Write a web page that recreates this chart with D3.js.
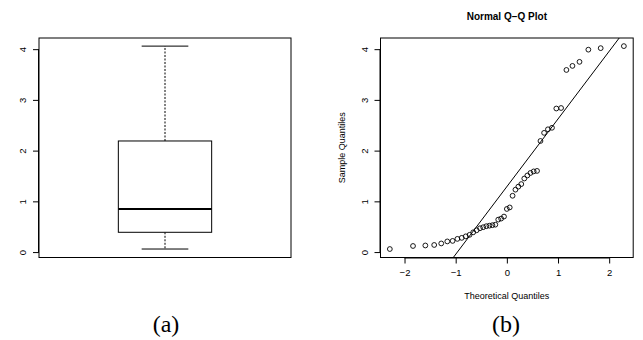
<!DOCTYPE html>
<html>
<head>
<meta charset="utf-8">
<script src="https://cdn.jsdelivr.net/npm/d3@7"></script>
<style>
  body { margin: 0; background: #fff; }
  svg text { font-family: "Liberation Sans", Arial, sans-serif; fill: #000; }
</style>
</head>
<body>
<div id="chart"></div>
<script>
// sorted sample (n = 45)
var sample = [0.06, 0.12, 0.13, 0.14, 0.17, 0.21, 0.22, 0.26, 0.28, 0.31,
              0.34, 0.39, 0.43, 0.47, 0.49, 0.51, 0.52, 0.53, 0.54, 0.64,
              0.66, 0.70, 0.85, 0.88, 1.11, 1.23, 1.29, 1.34, 1.45, 1.51,
              1.56, 1.59, 1.60, 2.19, 2.35, 2.42, 2.45, 2.83, 2.84, 3.59,
              3.67, 3.75, 3.99, 4.02, 4.06];
// theoretical normal quantiles for the 45 plotting positions
var theoretical = [-2.287, -1.834, -1.593, -1.420, -1.282, -1.164, -1.060, -0.967, -0.882, -0.803,
                   -0.728, -0.657, -0.590, -0.524, -0.462, -0.401, -0.341, -0.282, -0.225, -0.168,
                   -0.112, -0.056, 0, 0.056, 0.112, 0.168, 0.225, 0.282, 0.341, 0.401,
                   0.462, 0.524, 0.590, 0.657, 0.728, 0.803, 0.882, 0.967, 1.060, 1.164,
                   1.282, 1.420, 1.593, 1.834, 2.287];
var yTicks = [0, 1, 2, 3, 4];
var xTicks = [-2, -1, 0, 1, 2];
var normQuartile = 0.6745;

var W = 643, H = 340;
var plotTop = 38, plotBottom = 257.5;

var svg = d3.select("#chart").append("svg")
    .attr("width", W).attr("height", H);

var y = d3.scaleLinear().domain([-0.107, 4.22]).range([plotBottom, plotTop]);

function yAxis(g, x0) {
  g.append("g")
    .attr("transform", "translate(" + x0 + ",0)")
    .call(d3.axisLeft(y).tickValues(yTicks).tickSize(6).tickFormat(d3.format("d")))
    .call(function(a) {
      a.select(".domain").attr("d", "M-0.5," + y(0) + "V" + y(4)).attr("stroke", "#000");
      a.selectAll("text").attr("font-size", 9.5).attr("font-family", "Liberation Sans, Arial, sans-serif")
        .attr("text-anchor", "middle").attr("dy", null)
        .attr("x", null).attr("y", null)
        .attr("transform", "translate(-13,0) rotate(-90)");
    });
}

// ---------- (a) boxplot ----------
var xb = d3.scaleLinear().domain([0.46, 1.54]).range([39, 291]);
var a = svg.append("g");
a.append("rect").attr("x", xb(0.46)).attr("y", plotTop).attr("width", xb(1.54) - xb(0.46))
  .attr("height", plotBottom - plotTop).attr("fill", "none").attr("stroke", "#000");
yAxis(a, 39);

var lo = d3.min(sample), hi = d3.max(sample);
var q1 = d3.quantile(sample, 0.25), med = d3.median(sample), q3 = d3.quantile(sample, 0.75);

a.append("line").attr("x1", xb(1)).attr("x2", xb(1)).attr("y1", y(q3)).attr("y2", y(hi))
  .attr("stroke", "#000").attr("stroke-dasharray", "2,1.5");
a.append("line").attr("x1", xb(1)).attr("x2", xb(1)).attr("y1", y(q1)).attr("y2", y(lo))
  .attr("stroke", "#000").attr("stroke-dasharray", "2,1.5");
[lo, hi].forEach(function(v) {
  a.append("line").attr("x1", xb(0.9)).attr("x2", xb(1.1)).attr("y1", y(v)).attr("y2", y(v))
    .attr("stroke", "#000");
});
a.append("rect").attr("x", xb(0.8)).attr("y", y(q3)).attr("width", xb(1.2) - xb(0.8))
  .attr("height", y(q1) - y(q3)).attr("fill", "#fff").attr("stroke", "#000");
a.append("line").attr("x1", xb(0.8)).attr("x2", xb(1.2)).attr("y1", y(med)).attr("y2", y(med))
  .attr("stroke", "#000").attr("stroke-width", 2);

// ---------- (b) normal Q-Q plot ----------
var xq = d3.scaleLinear().domain([-2.4694, 2.4694]).range([380.5, 633.2]);
var b = svg.append("g");
b.append("defs").append("clipPath").attr("id", "clipq").append("rect")
  .attr("x", xq(-2.4694)).attr("y", plotTop).attr("width", xq(2.4694) - xq(-2.4694)).attr("height", plotBottom - plotTop);
b.append("rect").attr("x", xq(-2.4694)).attr("y", plotTop).attr("width", xq(2.4694) - xq(-2.4694))
  .attr("height", plotBottom - plotTop).attr("fill", "none").attr("stroke", "#000");
yAxis(b, 380.5);

b.append("g").attr("transform", "translate(0," + plotBottom + ")")
  .call(d3.axisBottom(xq).tickValues(xTicks).tickSize(6).tickPadding(6)
    .tickFormat(function(d) { return d < 0 ? "\u2212" + Math.abs(d) : d; }))
  .call(function(g) {
    g.select(".domain").attr("d", "M" + xq(-2) + ",0.5H" + xq(2)).attr("stroke", "#000");
    g.selectAll("text").attr("font-size", 9.5).attr("font-family", "Liberation Sans, Arial, sans-serif").attr("y", 12);
  });

var slope = (q3 - q1) / (2 * normQuartile);
var intercept = q1 + normQuartile * slope;
b.append("line").attr("clip-path", "url(#clipq)")
  .attr("x1", xq(-2.4694)).attr("y1", y(intercept - 2.4694 * slope))
  .attr("x2", xq(2.4694)).attr("y2", y(intercept + 2.4694 * slope))
  .attr("stroke", "#000");

b.selectAll("circle.pt").data(sample).enter().append("circle").attr("class", "pt")
  .attr("cx", function(d, i) { return xq(theoretical[i]); })
  .attr("cy", function(d) { return y(d); })
  .attr("r", 2.4).attr("fill", "none").attr("stroke", "#000").attr("stroke-width", 0.9);

b.append("text").attr("x", xq(0)).attr("y", 20).attr("text-anchor", "middle")
  .attr("font-size", 10).attr("font-weight", "bold").text("Normal Q\u2212Q Plot");
b.append("text").attr("x", xq(0)).attr("y", 299).attr("text-anchor", "middle")
  .attr("font-size", 9).attr("fill", "#000").text("Theoretical Quantiles");
b.append("text").attr("transform", "translate(345," + ((plotTop + plotBottom) / 2) + ") rotate(-90)")
  .attr("text-anchor", "middle").attr("font-size", 9).attr("fill", "#000").text("Sample Quantiles");

// panel captions
svg.append("text").attr("x", 166).attr("y", 332).attr("text-anchor", "middle")
  .style("font-family", "Liberation Serif, Times New Roman, serif").attr("font-size", 24).text("(a)");
svg.append("text").attr("x", 506).attr("y", 332).attr("text-anchor", "middle")
  .style("font-family", "Liberation Serif, Times New Roman, serif").attr("font-size", 24).text("(b)");
</script>
</body>
</html>
